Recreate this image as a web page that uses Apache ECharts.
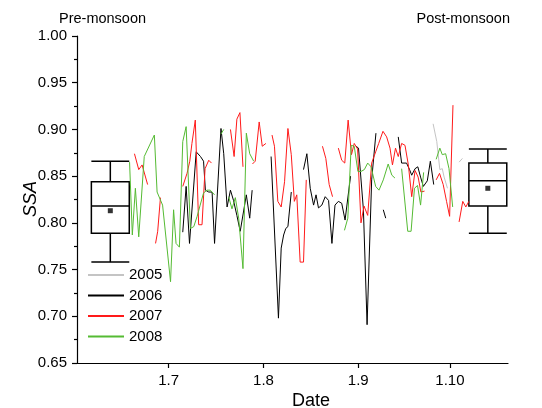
<!DOCTYPE html>
<html>
<head>
<meta charset="utf-8">
<script src="https://cdn.jsdelivr.net/npm/echarts@6/dist/echarts.min.js"></script>
<style>html,body{margin:0;padding:0;background:#fff;}#c{width:542px;height:408px;}</style>
</head>
<body>
<div id="c"></div>
<script>
// x values are days counted from 1 July (1.7)
const monthTickDays = [0, 31, 62, 92];
const monthTickLabels = ['1.7', '1.8', '1.9', '1.10'];
const years = ['2005', '2006', '2007', '2008'];
const yearColors = ['#c4c4c4', '#000000', '#ff1a1a', '#55bb33'];

const ssa2005 = [
  [[86.5,0.906],[87.7,0.887],[88.7,0.857],[89.5,0.858],[90.1,0.849],[91.2,0.837]],
  [[95.0,0.865],[96.1,0.869]]
];
const ssa2006 = [
  [[4.6,0.790],[5.7,0.839],[6.8,0.778],[9.0,0.876],[10.4,0.871],[11.4,0.866],[12.0,0.835],[13.1,0.833],[14.2,0.833],[15.0,0.778],[17.1,0.901],[18.0,0.874],[19.1,0.817],[20.2,0.835],[21.2,0.824],[22.3,0.808],[23.4,0.791],[25.4,0.830],[26.5,0.805],[27.3,0.835]],
  [[33.5,0.871],[35.9,0.698],[36.8,0.773],[37.6,0.787],[38.3,0.794],[39.0,0.796],[40.1,0.833]],
  [[44.1,0.857],[45.2,0.874],[46.3,0.837],[47.4,0.819],[48.2,0.830],[49.0,0.816],[50.1,0.819],[51.2,0.828],[52.3,0.824],[53.4,0.778],[54.4,0.819],[55.5,0.823],[56.6,0.821],[57.7,0.803],[59.5,0.850]],
  [[61.3,0.882],[62.1,0.880],[63.7,0.814],[64.9,0.691],[66.4,0.846],[67.8,0.896]],
  [[70.2,0.814],[71.0,0.805]],
  [[75.1,0.892],[76.2,0.864],[77.8,0.864],[78.8,0.857],[79.5,0.851],[80.6,0.858],[81.5,0.860],[82.4,0.849],[83.3,0.839],[84.6,0.845],[85.6,0.866],[86.7,0.841]]
];
const ssa2007 = [
  [[-11.2,0.874],[-9.8,0.857],[-8.7,0.862],[-6.9,0.841]],
  [[-4.3,0.778],[-3.6,0.791],[-2.7,0.827]],
  [[4.6,0.839],[6.0,0.853],[6.9,0.866],[7.6,0.885],[8.7,0.910],[9.8,0.798],[10.9,0.798],[11.9,0.858],[13.1,0.867],[14.0,0.864]],
  [[20.2,0.900],[21.4,0.871],[22.3,0.911],[23.3,0.918],[24.3,0.860]],
  [[27.4,0.863],[28.3,0.866],[29.6,0.908],[30.6,0.882],[31.8,0.885]],
  [[33.8,0.894],[34.6,0.882],[35.7,0.823],[36.8,0.817],[37.9,0.844],[39.0,0.901],[40.1,0.873],[41.1,0.823],[41.9,0.830],[43.0,0.758],[44.1,0.758],[45.0,0.846]],
  [[50.3,0.882],[51.4,0.869],[52.5,0.841],[53.6,0.828]],
  [[55.5,0.880],[56.6,0.867],[57.6,0.864],[58.7,0.910],[59.8,0.873],[60.7,0.885],[61.8,0.879],[62.9,0.800],[63.9,0.818],[65.1,0.808],[66.4,0.864],[67.7,0.876],[68.7,0.885],[70.1,0.898],[71.3,0.892],[72.4,0.880],[73.2,0.862],[74.2,0.880],[75.1,0.871],[76.2,0.885],[77.3,0.883],[78.4,0.862],[79.5,0.828],[80.6,0.856],[81.6,0.849],[82.5,0.833],[83.7,0.834]],
  [[87.5,0.846],[88.6,0.853],[89.8,0.841],[90.9,0.823],[91.9,0.807],[93.0,0.926]],
  [[95.0,0.801],[96.2,0.823],[97.2,0.817],[98.2,0.823]]
];
const ssa2008 = [
  [[-12.8,0.865],[-11.9,0.787],[-10.9,0.837],[-9.8,0.785],[-8.0,0.871],[-4.7,0.894],[-3.8,0.833],[-2.0,0.819],[0.6,0.737],[1.6,0.814],[2.4,0.778],[3.5,0.774],[4.6,0.887],[5.7,0.903],[7.1,0.794],[8.2,0.796],[9.3,0.807],[10.3,0.819],[11.4,0.832],[12.5,0.835],[13.6,0.835],[15.0,0.830]],
  [[17.1,0.895],[18.0,0.900]],
  [[19.6,0.828],[20.7,0.815],[21.8,0.827],[22.9,0.805],[24.3,0.751],[25.4,0.896],[26.5,0.874],[27.8,0.866]],
  [[57.5,0.792],[58.6,0.805],[59.7,0.883],[60.7,0.882],[61.9,0.855],[62.9,0.855],[64.0,0.857],[65.1,0.864],[66.2,0.860],[67.7,0.839],[68.8,0.835],[70.2,0.846],[71.8,0.863],[73.0,0.851],[74.0,0.848]],
  [[76.2,0.858],[78.2,0.791],[79.3,0.791],[80.4,0.837],[81.4,0.840],[82.4,0.819],[83.4,0.854]],
  [[87.5,0.868],[88.7,0.880],[89.5,0.873],[90.6,0.874],[91.7,0.858],[92.9,0.817]]
];

// box statistics: [day position, min, Q1, median, Q3, max]
const preMonsoonBox = [-19.1, 0.758, 0.789, 0.818, 0.844, 0.866];
const preMonsoonMean = 0.813;
const postMonsoonBox = [104.4, 0.789, 0.818, 0.845, 0.864, 0.879];
const postMonsoonMean = 0.837;

const yearData = [ssa2005, ssa2006, ssa2007, ssa2008];
const series = [];
yearData.forEach((segs, i) => {
  segs.forEach(seg => {
    series.push({
      name: years[i], type: 'line', data: seg, showSymbol: false, symbol: 'none',
      lineStyle: { color: yearColors[i], width: 1 }, itemStyle: { color: yearColors[i] },
      animation: false, silent: true
    });
  });
});

const boxWidthDays = 12.4;
series.push({
  type: 'custom', animation: false, silent: true,
  data: [preMonsoonBox, postMonsoonBox],
  encode: { x: 0, y: [1, 2, 3, 4, 5] },
  renderItem: function (params, api) {
    const x = api.value(0);
    const pMin = api.coord([x, api.value(1)]);
    const pQ1 = api.coord([x, api.value(2)]);
    const pMed = api.coord([x, api.value(3)]);
    const pQ3 = api.coord([x, api.value(4)]);
    const pMax = api.coord([x, api.value(5)]);
    const half = api.size([boxWidthDays, 0])[0] / 2;
    const cx = pMed[0];
    const st = { stroke: '#000', lineWidth: 1.5, fill: null };
    return {
      type: 'group',
      children: [
        { type: 'rect', shape: { x: cx - half, y: pQ3[1], width: half * 2, height: pQ1[1] - pQ3[1] }, style: st },
        { type: 'line', shape: { x1: cx - half, y1: pMed[1], x2: cx + half, y2: pMed[1] }, style: st },
        { type: 'line', shape: { x1: cx, y1: pQ3[1], x2: cx, y2: pMax[1] }, style: st },
        { type: 'line', shape: { x1: cx, y1: pQ1[1], x2: cx, y2: pMin[1] }, style: st },
        { type: 'line', shape: { x1: cx - half, y1: pMax[1], x2: cx + half, y2: pMax[1] }, style: st },
        { type: 'line', shape: { x1: cx - half, y1: pMin[1], x2: cx + half, y2: pMin[1] }, style: st }
      ]
    };
  }
});
series.push({
  type: 'scatter', symbol: 'rect', symbolSize: 5, animation: false, silent: true,
  itemStyle: { color: '#000' },
  data: [[preMonsoonBox[0], preMonsoonMean], [postMonsoonBox[0], postMonsoonMean]]
});

const font = 'Liberation Sans, Arial, sans-serif';
const chart = echarts.init(document.getElementById('c'), null, { renderer: 'canvas' });
chart.setOption({
  backgroundColor: '#fff',
  animation: false,
  grid: { left: 77, right: 34, top: 36, bottom: 45 },
  xAxis: {
    type: 'value', min: -30, max: 111,
    axisLine: { show: true, onZero: false, lineStyle: { color: '#000', width: 1.2 } },
    axisTick: { show: true, inside: false, length: 5, customValues: monthTickDays, lineStyle: { color: '#000', width: 1.2 } },
    axisLabel: {
      customValues: monthTickDays, margin: 10, color: '#000', fontSize: 15, fontFamily: font,
      formatter: function (v) { const k = monthTickDays.indexOf(Math.round(v)); return k >= 0 ? monthTickLabels[k] : ''; }
    },
    splitLine: { show: false }
  },
  yAxis: {
    type: 'value', min: 0.65, max: 1.0, interval: 0.05,
    axisLine: { show: true, onZero: false, lineStyle: { color: '#000', width: 1.2 } },
    axisTick: { show: true, length: 5, lineStyle: { color: '#000', width: 1.2 } },
    minorTick: { show: true, splitNumber: 2, length: 3, lineStyle: { color: '#000', width: 1.2 } },
    axisLabel: { margin: 10, color: '#000', fontSize: 15, fontFamily: font, formatter: v => v.toFixed(2) },
    splitLine: { show: false }
  },
  legend: {
    data: years.map(y => ({ name: y })),
    orient: 'vertical', left: 88, top: 267, padding: 0, itemGap: 4.5,
    itemWidth: 36, itemHeight: 2, icon: 'rect',
    textStyle: { color: '#000', fontSize: 15, fontFamily: font, lineHeight: 16 },
    selectedMode: false
  },
  graphic: [
    { type: 'text', x: 59, y: 19, style: { text: 'Pre-monsoon', fill: '#000', font: '14.5px "Liberation Sans", Arial, sans-serif', align: 'left', verticalAlign: 'middle' } },
    { type: 'text', x: 510, y: 19, style: { text: 'Post-monsoon', fill: '#000', font: '14.5px "Liberation Sans", Arial, sans-serif', align: 'right', verticalAlign: 'middle' } },
    { type: 'text', x: 311, y: 401, style: { text: 'Date', fill: '#000', font: '18px "Liberation Sans", Arial, sans-serif', align: 'center', verticalAlign: 'middle' } },
    { type: 'text', x: 31, y: 199, rotation: Math.PI / 2, style: { text: 'SSA', fill: '#000', font: 'italic 18px "Liberation Sans", Arial, sans-serif', align: 'center', verticalAlign: 'middle' } }
  ],
  series: series
});
</script>
</body>
</html>
